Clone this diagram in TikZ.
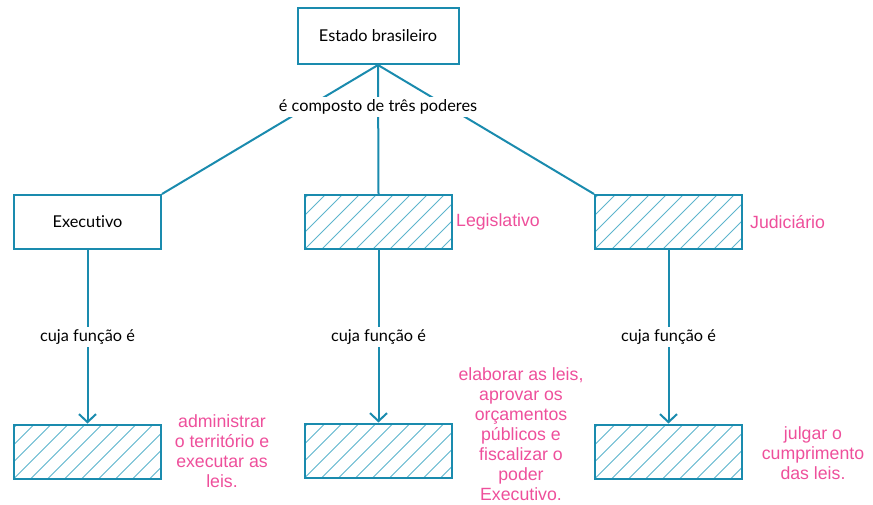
\documentclass[tikz,border=0pt]{standalone}
\usepackage{fontspec}
\setmainfont{Lato}[Ligatures={NoCommon,NoRare}]
\newfontfamily\pinkfont{Liberation Sans}
\usetikzlibrary{arrows.meta}
\definecolor{teal1}{HTML}{1A8BAE}
\definecolor{hatchc}{HTML}{5DB4CD}
\definecolor{pink1}{HTML}{EE4F9B}
\tikzset{
  box/.style={draw=teal1, line width=2pt, minimum width=147pt, minimum height=54pt, inner sep=0pt,
    font=\fontsize{16.3}{19}\selectfont},
  hatchbox/.style={box, path picture={
      \foreach \i in {-4,...,9}
        \draw[hatchc, line width=0.8pt] ([xshift=\i*17pt]path picture bounding box.south west) -- ++(60pt,60pt);
    }},
  conn/.style={draw=teal1, line width=2pt},
  arr/.style={conn, -{Straight Barb[length=8pt,width=17pt,line width=2pt]}},
  lbl/.style={fill=white, inner sep=3pt, font=\fontsize{16.3}{19}\selectfont},
  pinktxt/.style={text=pink1, font=\pinkfont\fontsize{17.7}{20}\selectfont, align=center, inner sep=0pt}
}
\begin{document}
\begin{tikzpicture}[x=1pt,y=-1pt]
\useasboundingbox (0,0) rectangle (873,505);
\node[box, minimum width=161pt, minimum height=56pt] (est) at (378,36) {Estado brasileiro};
\node[box] (exe) at (87.5,222) {Executivo};
\node[hatchbox] (leg) at (378.5,222) {};
\node[hatchbox] (jud) at (668.5,222) {};
\node[hatchbox] (exe2) at (87.5,451.5) {};
\node[hatchbox] (leg2) at (378.5,450.5) {};
\node[hatchbox] (jud2) at (668.5,451.5) {};

\draw[conn] (est.south) -- (exe.north east);
\draw[conn] (est.south) -- (leg.north);
\draw[conn] (est.south) -- (jud.north west);
\node[lbl] (comp) at (378,107) {é composto de três poderes};

\draw[arr] (exe.south) -- (exe2.north);
\draw[arr] (leg.south) -- (leg2.north);
\draw[arr] (jud.south) -- (jud2.north);
\node[lbl] (f1) at (87.5,337) {cuja função é};
\node[lbl] (f2) at (378.5,337) {cuja função é};
\node[lbl] (f3) at (668.5,337) {cuja função é};

\node[pinktxt, anchor=west] (legt) at (456,222) {Legislativo};
\node[pinktxt, anchor=west] (judt) at (750,222) {Judiciário};
\node[pinktxt] (t1) at (222,451) {administrar\\o território e\\executar as\\leis.};
\node[pinktxt] (t2) at (521,434) {elaborar as leis,\\aprovar os\\orçamentos\\públicos e\\fiscalizar o\\poder\\Executivo.};
\node[pinktxt] (t3) at (813,453) {julgar o\\cumprimento\\das leis.};
\end{tikzpicture}
\end{document}
